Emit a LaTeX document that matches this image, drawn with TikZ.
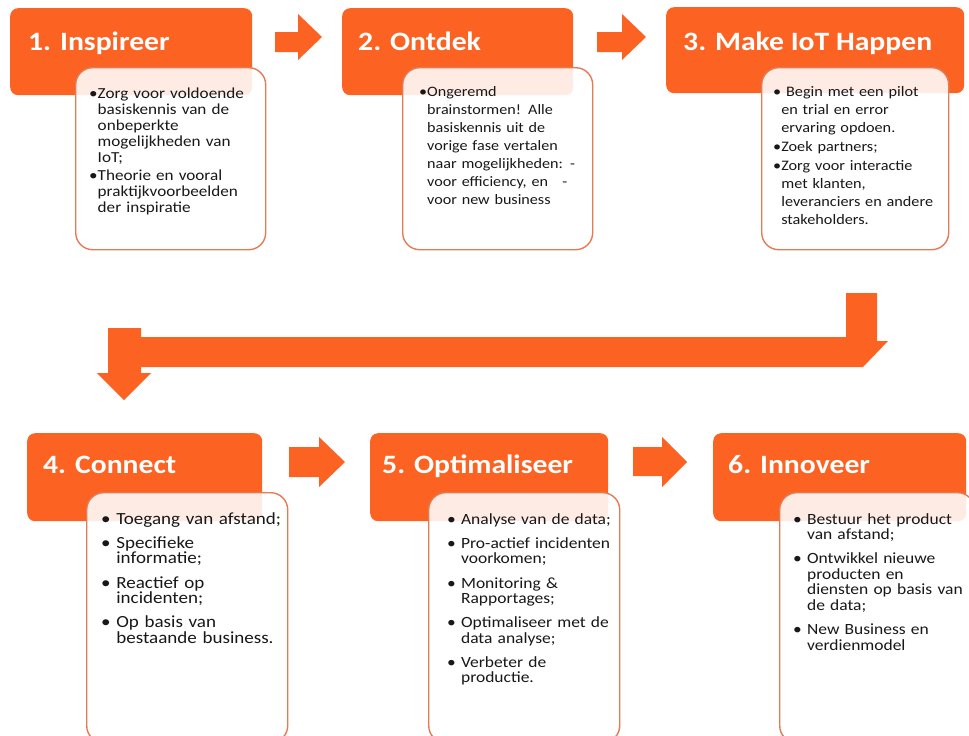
\documentclass[tikz,border=0pt]{standalone}
\usepackage{fontspec}
\setmainfont{Carlito}[FakeStretch=1.12]
\definecolor{iotorange}{RGB}{252,98,34}
\definecolor{iotline}{RGB}{226,124,86}
\definecolor{iottext}{RGB}{24,24,24}
\newlength{\bulw}
% bullet glued to the text, hanging lines
\newcommand{\bitem}[1]{\par\settowidth{\bulw}{\textbullet}\hangindent=\bulw\hangafter=1\noindent\textbullet#1\par}
% bullet with a space
\newcommand{\sitem}[1]{\par\settowidth{\bulw}{\textbullet\ }\hangindent=\bulw\hangafter=1\noindent\textbullet\ #1\par}
\begin{document}
\begin{tikzpicture}[x=1pt,y=-1pt,
  head/.style={fill=iotorange, rounded corners=8pt, anchor=north west, inner sep=0pt},
  card/.style={fill=white, fill opacity=0.88, draw=iotline, line width=1.4pt, rounded corners=17pt, anchor=north west, inner sep=0pt},
  title/.style={anchor=base west, inner sep=0pt, text=white, font=\fontsize{26.5}{32}\selectfont\bfseries},
  toptext/.style 2 args={anchor=north west, inner sep=0pt, text width=200pt, align=left, text=iottext, font=\fontsize{#1}{#2}\selectfont\setlength{\parskip}{1.5pt}},
  lowtext/.style={anchor=north west, inner sep=0pt, text width=200pt, align=left, text=iottext, font=\fontsize{#1}{15.5}\selectfont\setlength{\parskip}{8.6pt}},
  flow/.style={fill=iotorange}]
\useasboundingbox (0,0) rectangle (969,736);
\fill[white] (0,0) rectangle (969,736);
%
% top row
\node[head, minimum width=242pt, minimum height=87pt] (h1) at (10,8) {};
\node[card, minimum width=190pt, minimum height=182pt] (b1) at (75,67) {};
\node[title] (t1) at (28,50) {1. Inspireer};
\node[toptext={15.3}{16}] (x1) at (89,81) {\bitem{Zorg voor voldoende\newline basiskennis van de\newline onbeperkte\newline mogelijkheden van\newline IoT;}\bitem{Theorie en vooral\newline praktijkvoorbeelden\newline der inspiratie}};
%
\node[head, minimum width=231pt, minimum height=87pt] (h2) at (342,8) {};
\node[card, minimum width=190pt, minimum height=182pt] (b2) at (402,67) {};
\node[title] (t2) at (358,50) {2. Ontdek};
\node[toptext={14.4}{18}] (x2) at (419,77) {\bitem{Ongeremd\newline brainstormen! Alle\newline basiskennis uit de\newline vorige fase vertalen\newline naar mogelijkheden: -\newline voor efficiency, en\ \ \ -\newline voor new business}};
%
\node[head, minimum width=298pt, minimum height=86pt] (h3) at (666,7) {};
\node[card, minimum width=187pt, minimum height=182pt] (b3) at (761,67) {};
\node[title] (t3) at (683,50) {3. Make IoT Happen};
\node[toptext={14.5}{17.8}] (x3) at (773,77) {\bitem{\ Begin met een pilot\newline en trial en error\newline ervaring opdoen.}\bitem{Zoek partners;}\bitem{Zorg voor interactie\newline met klanten,\newline leveranciers en andere\newline stakeholders.}};
%
% arrows between the steps
\fill[flow] (275,32) -- (298,32) -- (298,14) -- (322,37) -- (298,60) -- (298,52) -- (275,52) -- cycle;
\fill[flow] (597,32) -- (622,32) -- (622,14) -- (646,37) -- (622,60) -- (622,52) -- (597,52) -- cycle;
\fill[flow] (130,337) -- (846,337) -- (846,293) -- (877,293) -- (877,341) -- (888,341) -- (863,367) -- (130,367) -- cycle;
\fill[flow] (108,328) -- (141,328) -- (141,373) -- (151,373) -- (124,400) -- (97,373) -- (108,373) -- cycle;
\fill[flow] (289,447) -- (319,447) -- (319,437) -- (345,462) -- (319,487) -- (319,477) -- (289,477) -- cycle;
\fill[flow] (633,447) -- (662,447) -- (662,437) -- (687,462) -- (662,487) -- (662,476) -- (633,476) -- cycle;
%
% bottom row
\node[head, minimum width=235pt, minimum height=88pt] (h4) at (27,433) {};
\node[card, minimum width=201pt, minimum height=250pt] (b4) at (86,492) {};
\node[title] (t4) at (43,473) {4. Connect};
\node[lowtext=17] (x4) at (101,500) {\sitem{Toegang van afstand;}\sitem{Specifieke\newline informatie;}\sitem{Reactief op\newline incidenten;}\sitem{Op basis van\newline bestaande business.}};
%
\node[head, minimum width=238pt, minimum height=88pt] (h5) at (370,433) {};
\node[card, minimum width=191pt, minimum height=250pt] (b5) at (428,492) {};
\node[title] (t5) at (382,473) {5. Optimaliseer};
\node[lowtext=15.6] (x5) at (447,500) {\sitem{Analyse van de data;}\sitem{Pro-actief incidenten\newline voorkomen;}\sitem{Monitoring \&\newline Rapportages;}\sitem{Optimaliseer met de\newline data analyse;}\sitem{Verbeter de\newline productie.}};
%
\node[head, minimum width=253pt, minimum height=88pt] (h6) at (713,433) {};
\node[card, minimum width=195pt, minimum height=250pt] (b6) at (779,492) {};
\node[title] (t6) at (728,473) {6. Innoveer};
\node[lowtext=15.6] (x6) at (793,500) {\sitem{Bestuur het product\newline van afstand;}\sitem{Ontwikkel nieuwe\newline producten en\newline diensten op basis van\newline de data;}\sitem{New Business en\newline verdienmodel}};
\end{tikzpicture}
\end{document}
